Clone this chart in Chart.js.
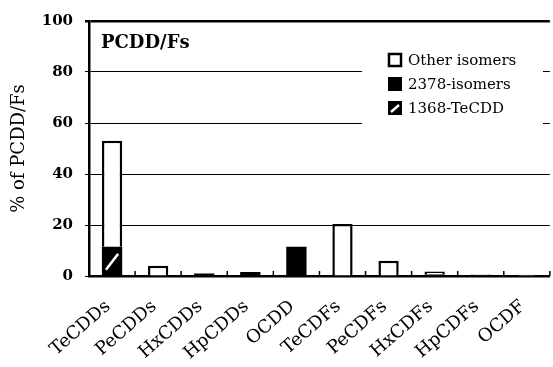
<!DOCTYPE html>
<html>
<head>
<meta charset="utf-8">
<script src="https://cdn.jsdelivr.net/npm/chart.js@4"></script>
<style>
  html, body { margin: 0; padding: 0; background: #fff; }
</style>
</head>
<body>
<canvas id="chart" width="553" height="367"></canvas>
<script>
// homologue profile, % of total PCDD/Fs
const categories = ['TeCDDs', 'PeCDDs', 'HxCDDs', 'HpCDDs', 'OCDD', 'TeCDFs', 'PeCDFs', 'HxCDFs', 'HpCDFs', 'OCDF'];
const tecdd1368 = [11.5, 0, 0, 0, 0, 0, 0, 0, 0, 0];
const isomers2378 = [0, 0, 1, 1.6, 11.5, 0, 0, 0.6, 0.3, 0];
const otherIsomers = [41.5, 4, 0, 0, 0, 20.4, 6, 1.2, 0.3, 0.5];
const yTicks = [0, 20, 40, 60, 80, 100];

const SERIF = '"DejaVu Serif", "Liberation Serif", serif';

// white slash across the 1368-TeCDD segments
const slashPlugin = {
  id: 'slash',
  afterDatasetsDraw(chart) {
    const ctx = chart.ctx;
    const meta = chart.getDatasetMeta(0);
    ctx.save();
    ctx.strokeStyle = '#fff';
    ctx.lineWidth = 2.5;
    meta.data.forEach((bar, i) => {
      if (!tecdd1368[i]) return;
      const p = bar.getProps(['x', 'y', 'base', 'width'], true);
      const h = p.base - p.y;
      ctx.beginPath();
      ctx.moveTo(p.x - p.width * 0.3, p.base - h * 0.2);
      ctx.lineTo(p.x + p.width * 0.3, p.base - h * 0.75);
      ctx.stroke();
    });
    ctx.restore();
  }
};

// short inward ticks on the category axis, title and legend box
const decorPlugin = {
  id: 'decor',
  afterDraw(chart) {
    const ctx = chart.ctx;
    const x = chart.scales.x;
    const area = chart.chartArea;
    const step = x.getPixelForValue(1) - x.getPixelForValue(0);
    ctx.save();
    ctx.strokeStyle = '#000';
    ctx.lineWidth = 1.5;
    for (let i = 0; i < categories.length; i++) {
      const bx = x.getPixelForValue(i) + step / 2;
      ctx.beginPath();
      ctx.moveTo(bx, area.bottom);
      ctx.lineTo(bx, area.bottom - 5);
      ctx.stroke();
    }

    ctx.fillStyle = '#000';
    ctx.font = 'bold 18px ' + SERIF;
    ctx.textAlign = 'left';
    ctx.textBaseline = 'middle';
    ctx.fillText('PCDD/Fs', area.left + 12, area.top + 22);

    // legend
    const lx = 362, ly = 48;
    ctx.fillStyle = '#fff';
    ctx.fillRect(lx, ly, 181, 76);
    const items = chart.data.datasets.slice().reverse();
    items.forEach((ds, k) => {
      const cy = 60 + k * 24;
      const bx = 389, size = 12;
      if (ds.label === 'Other isomers') {
        ctx.fillStyle = '#fff';
        ctx.fillRect(bx, cy - size / 2, size, size);
        ctx.strokeStyle = '#000';
        ctx.lineWidth = 2.5;
        ctx.strokeRect(bx, cy - size / 2, size, size);
      } else {
        ctx.fillStyle = '#000';
        ctx.fillRect(bx - 1, cy - size / 2 - 1, size + 2, size + 2);
        if (ds.label === '1368-TeCDD') {
          ctx.strokeStyle = '#fff';
          ctx.lineWidth = 2.5;
          ctx.beginPath();
          ctx.moveTo(bx + 2, cy + 4);
          ctx.lineTo(bx + size - 2, cy - 3);
          ctx.stroke();
        }
      }
      ctx.fillStyle = '#000';
      ctx.font = '15px ' + SERIF;
      ctx.textAlign = 'left';
      ctx.textBaseline = 'middle';
      ctx.fillText(ds.label, 408, cy + 1);
    });
    ctx.restore();
  }
};

new Chart(document.getElementById('chart'), {
  type: 'bar',
  data: {
    labels: categories,
    datasets: [
      { label: '1368-TeCDD', data: tecdd1368, backgroundColor: '#000', borderColor: '#000', borderWidth: 0 },
      { label: '2378-isomers', data: isomers2378, backgroundColor: '#000', borderColor: '#000', borderWidth: 0 },
      { label: 'Other isomers', data: otherIsomers, backgroundColor: '#fff', borderColor: '#000', borderWidth: 2.5 }
    ]
  },
  options: {
    responsive: false,
    animation: false,
    devicePixelRatio: 1,
    layout: { padding: { top: 13, left: 0, right: 0, bottom: 0 } },
    datasets: { bar: { categoryPercentage: 1, barPercentage: 0.44 } },
    plugins: { legend: { display: false }, tooltip: { enabled: false } },
    scales: {
      x: {
        stacked: true,
        grid: { display: false },
        border: { display: true, color: '#000', width: 2.5 },
        ticks: {
          autoSkip: false,
          minRotation: 41,
          maxRotation: 41,
          padding: 12,
          labelOffset: -4,
          color: '#000',
          font: { family: SERIF, size: 18 }
        },
        afterFit(scale) { scale.height = 91; }
      },
      y: {
        stacked: true,
        min: 0,
        max: 100,
        afterBuildTicks(scale) { scale.ticks = yTicks.map(v => ({ value: v })); },
        grid: {
          color: '#000',
          lineWidth: c => (c.tick && c.tick.value === 100 ? 2.5 : 1),
          tickLength: 4
        },
        border: { display: true, color: '#000', width: 2.5 },
        ticks: {
          padding: 12,
          color: '#000',
          font: { family: SERIF, size: 15, weight: 'bold' }
        },
        title: {
          display: true,
          text: '% of PCDD/Fs',
          color: '#000',
          padding: { top: 9, bottom: 0 },
          font: { family: SERIF, size: 18 }
        },
        afterFit(scale) { scale.width = 89; }
      }
    }
  },
  plugins: [slashPlugin, decorPlugin]
});
</script>
</body>
</html>
